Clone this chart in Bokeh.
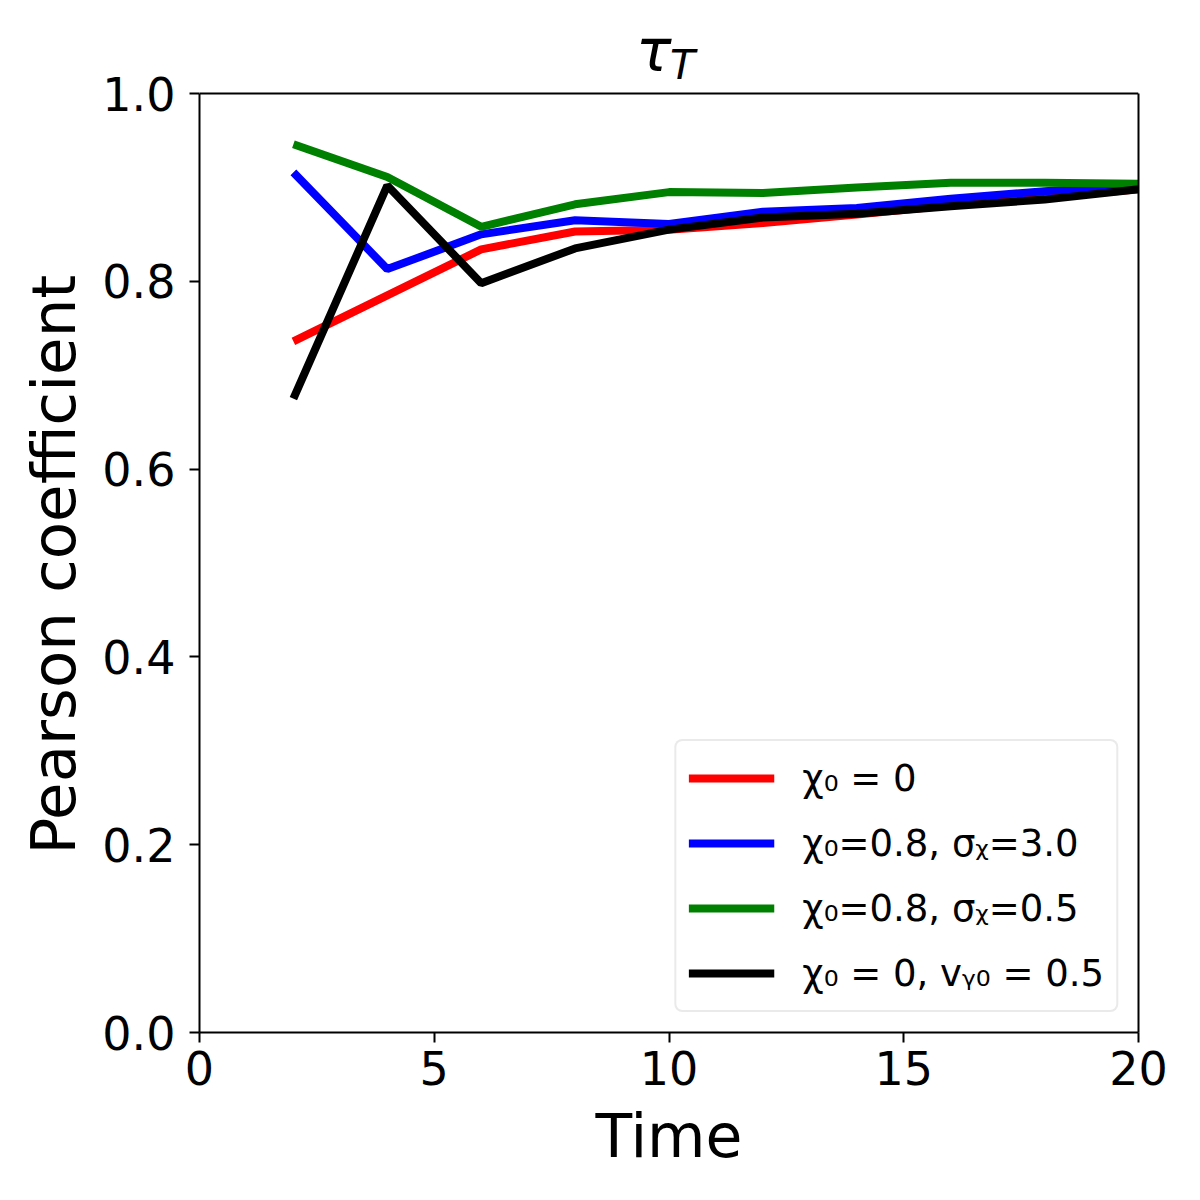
from bokeh.plotting import figure
from bokeh.models import (Legend, LegendItem, Label, FixedTicker, NumeralTickFormatter, Range1d,
                          LinearAxis, Span, Title)
from bokeh.embed import file_html
from bokeh.resources import INLINE

# ---- data ----
time = [2, 4, 6, 8, 10, 12, 14, 16, 18, 20]
chi0_zero = [0.736, 0.785, 0.834, 0.853, 0.855, 0.862, 0.871, 0.881, 0.889, 0.898]
chi08_sig30 = [0.916, 0.813, 0.850, 0.865, 0.861, 0.874, 0.878, 0.888, 0.896, 0.902]
chi08_sig05 = [0.946, 0.911, 0.858, 0.882, 0.895, 0.894, 0.900, 0.905, 0.905, 0.904]
chi0_vy05 = [0.675, 0.902, 0.798, 0.835, 0.855, 0.868, 0.872, 0.880, 0.887, 0.898]

series_labels = ["χ₀ = 0", "χ₀=0.8, σᵪ=3.0", "χ₀=0.8, σᵪ=0.5", "χ₀ = 0, vᵧ₀ = 0.5"]
series_colors = ["#ff0000", "#0000ff", "#008000", "#000000"]
x_ticks = [0, 5, 10, 15, 20]
y_ticks = [0.0, 0.2, 0.4, 0.6, 0.8, 1.0]
title_main = "τ"
title_sub = "T"
x_label = "Time"
y_label = "Pearson coefficient"

FONT = "DejaVu Sans"
AXES_PX = 939            # size of the axes box in pixels
TOP_PX = 93              # room above the axes box for the title
PX = 1.0 / AXES_PX       # data units (y) per pixel
Y_TOP = 1.0 + TOP_PX * PX

p = figure(frame_width=AXES_PX, frame_height=AXES_PX + TOP_PX, output_backend="svg",
           toolbar_location=None, title=None, x_range=Range1d(0, 20), y_range=Range1d(0, Y_TOP),
           min_border_left=199, min_border_right=54, min_border_top=0, min_border_bottom=160)
p.background_fill_color = "white"
p.border_fill_color = "white"
p.outline_line_color = None
p.xgrid.visible = False
p.ygrid.visible = False

renderers = []
for ys, c in zip([chi0_zero, chi08_sig30, chi08_sig05, chi0_vy05], series_colors):
    r = p.line(time, ys, line_color=c, line_width=8)
    renderers.append(r)

for ax in (p.xaxis[0], p.yaxis[0]):
    ax.axis_line_width = 2
    ax.major_tick_line_width = 2
    ax.major_tick_out = 10
    ax.major_tick_in = 0
    ax.minor_tick_line_color = None
    ax.major_label_text_font = FONT
    ax.major_label_text_font_size = "46px"
    ax.major_label_text_color = "black"
    ax.axis_label_text_font = FONT
    ax.axis_label_text_font_size = "60px"
    ax.axis_label_text_font_style = "normal"
    ax.axis_label_text_color = "black"

p.xaxis[0].ticker = FixedTicker(ticks=x_ticks)
p.yaxis[0].ticker = FixedTicker(ticks=y_ticks)
p.yaxis[0].bounds = (0, 1)
p.yaxis[0].formatter = NumeralTickFormatter(format="0.0")
p.xaxis[0].axis_label = x_label
p.xaxis[0].major_label_standoff = 8
p.yaxis[0].major_label_standoff = 14
p.xaxis[0].axis_label_standoff = 13

# y label as a side title so that it is centred on the axes box (not on the title room)
ytitle = Title(text=y_label, align="left", offset=178, standoff=22, vertical_align="bottom",
               text_font=FONT, text_font_size="61px", text_font_style="normal",
               text_color="black")
p.add_layout(ytitle, "left")

# right and top spines of the axes box
right_spine = LinearAxis(bounds=(0, 1), ticker=FixedTicker(ticks=[]), axis_line_width=2,
                         axis_line_color="black", major_tick_line_color=None,
                         minor_tick_line_color=None, major_label_text_font_size="0px")
p.add_layout(right_spine, "right")
p.add_layout(Span(location=1, dimension="width", line_color="black", line_width=2))

items = [LegendItem(label=l, renderers=[r]) for l, r in zip(series_labels, renderers)]
legend = Legend(items=items, location="bottom_right")
legend.margin = 20
legend.padding = 12
legend.spacing = 15
legend.glyph_width = 86
legend.glyph_height = 50
legend.label_height = 50
legend.label_standoff = 28
legend.label_text_font = FONT
legend.label_text_font_size = "37px"
legend.label_text_color = "black"
legend.border_line_color = "#d6d6d6"
legend.border_line_width = 2.5
legend.background_fill_color = "white"
legend.background_fill_alpha = 0.8
if "border_radius" in Legend.properties():
    legend.border_radius = 8
p.add_layout(legend, "center")

# title tau_T above the axes box
p.add_layout(Label(x=10, y=1 + 9 * PX, text=title_main, x_offset=-33, text_font=FONT,
                   text_font_size="59px", text_font_style="italic", text_align="left",
                   text_baseline="bottom", text_color="black"))
p.add_layout(Label(x=10, y=1 + 5 * PX, text=title_sub, x_offset=1, text_font=FONT,
                   text_font_size="41px", text_font_style="italic", text_align="left",
                   text_baseline="bottom", text_color="black"))

open("out.html", "w").write(file_html(p, INLINE))
